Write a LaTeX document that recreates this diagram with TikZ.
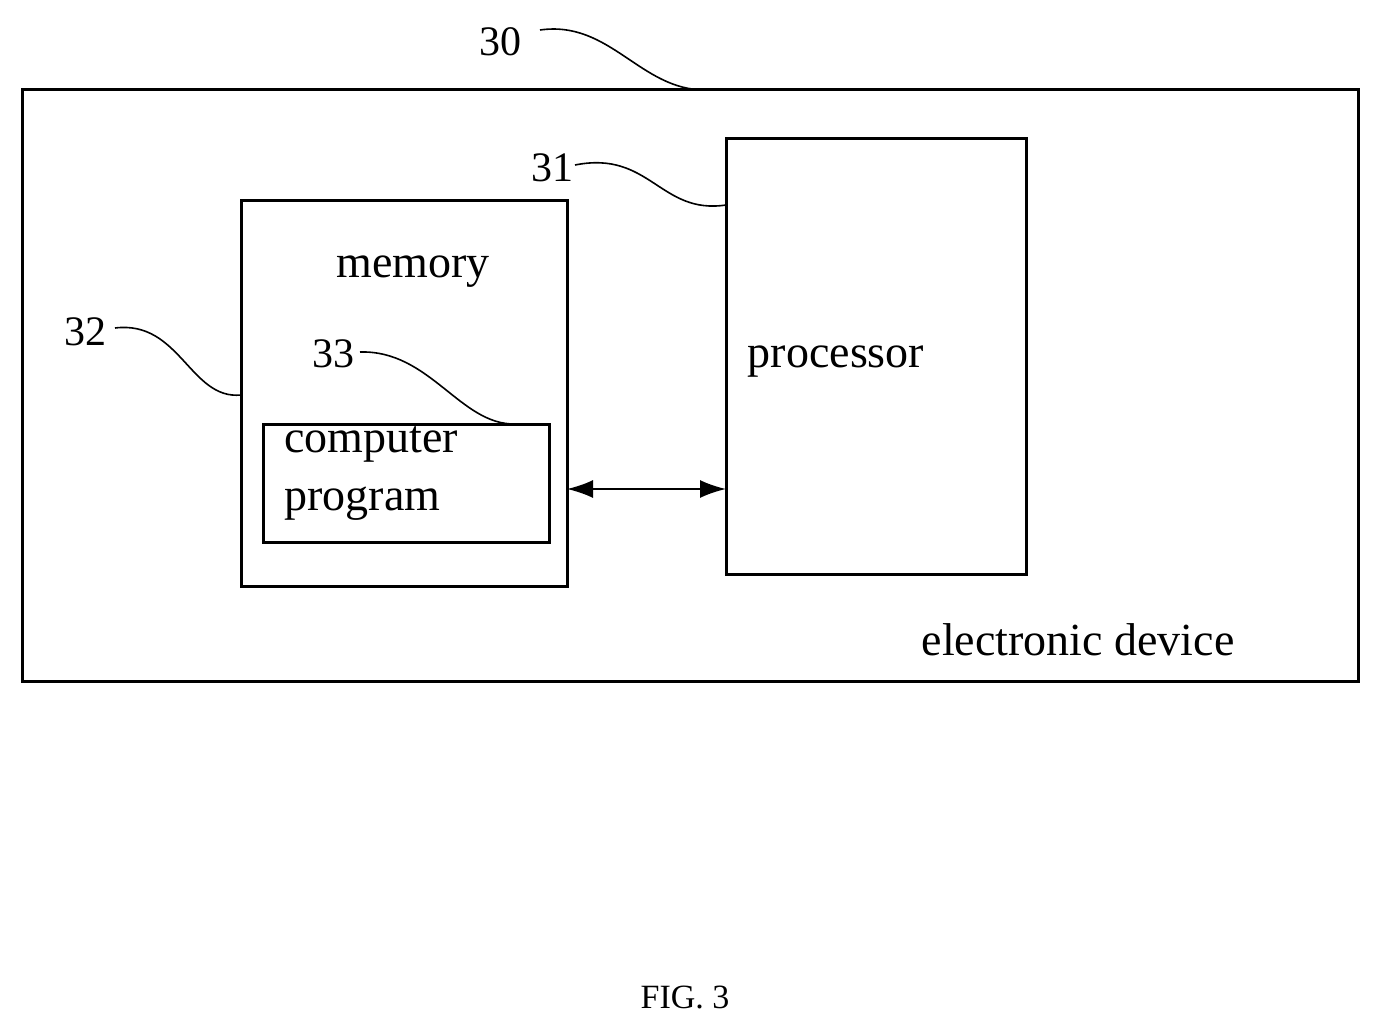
\documentclass[tikz,border=0pt]{standalone}
\usepackage{fontspec}
\setmainfont{Liberation Serif}
\usetikzlibrary{arrows.meta}
\begin{document}
\begin{tikzpicture}[x=1pt,y=-1pt,
  box/.style={draw,line width=3pt},
  lbl/.style={font=\fontsize{46}{50}\selectfont},
  num/.style={font=\fontsize{42}{46}\selectfont},
  lead/.style={line width=1.6pt}]
\useasboundingbox (0,0) rectangle (1380,1030);
\draw[box] (22,90) rectangle (1358,681);
\draw[box] (726,138) rectangle (1026,574);
\draw[box] (241,200) rectangle (567,586);
\draw[box] (263,424) rectangle (549,542);
\coordinate (mR) at (567,489);
\coordinate (pL) at (726,489);
\draw[line width=1.8pt,{Latex[length=26pt,width=18pt]}-{Latex[length=26pt,width=18pt]}] (mR) -- (pL);
\node[lbl] (mem) at (413,272) {memory};
\node[lbl] (proc) at (836,362) {processor};
\node[lbl,anchor=west] (cp1) at (281,444) {computer};
\node[lbl,anchor=west] (cp2) at (281,504) {program};
\node[lbl] (ed) at (1078,640) {electronic device};
\node[font=\fontsize{34}{38}\selectfont] (fig) at (685,997) {FIG. 3};
\node[num] (n30) at (500,42) {30};
\node[num] (n31) at (552,168) {31};
\node[num] (n32) at (85,332) {32};
\node[num] (n33) at (333,354) {33};
\draw[lead] (540,30) .. controls (610,20) and (640,90) .. (705,90);
\draw[lead] (575,165) .. controls (650,150) and (660,215) .. (726,205);
\draw[lead] (115,328) .. controls (180,320) and (190,400) .. (241,395);
\draw[lead] (360,352) .. controls (430,350) and (460,425) .. (515,424);
\end{tikzpicture}
\end{document}
